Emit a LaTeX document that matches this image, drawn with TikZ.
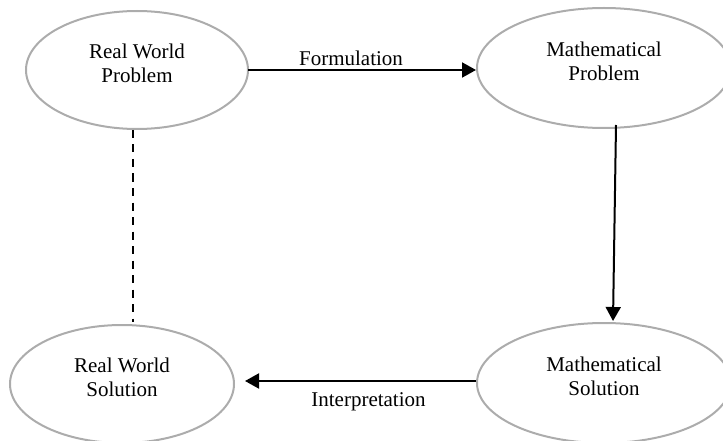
\documentclass[tikz,border=0pt]{standalone}
\usepackage{fontspec}
\setmainfont{Liberation Serif}
\usetikzlibrary{shapes.geometric, arrows.meta, positioning}
\usepackage{xcolor}
% extra depth under the last line, lifts the text a little in its ellipse
\newcommand{\liftup}{\rule[-14pt]{0pt}{14pt}}
\tikzset{
    >={Triangle[length=14pt, width=15pt]},
    % Shapes
    stage/.style={ellipse, draw=gray!65, line width=2pt, align=center,
                  minimum width=222pt, minimum height=118pt, inner sep=0pt,
                  font=\fontsize{21}{24}\selectfont},
    % Flow & Labels
    flow/.style={->, line width=2pt, black},
    link/.style={line width=2pt, black, dash pattern=on 8pt off 6.5pt},
    lbl/.style={font=\fontsize{21}{24}\selectfont, inner sep=2pt}
}
\begin{document}
\begin{tikzpicture}[x=1pt, y=-1pt]
\useasboundingbox (0,0) rectangle (723,441);
\clip (0,0) rectangle (723,441);

\node[stage] (rwp) at (137,70) {Real World\\Problem\liftup};
\node[stage, minimum width=254pt, minimum height=120pt] (mp) at (604,68) {Mathematical\\Problem\liftup};
\node[stage, minimum width=224pt] (rws) at (122,384) {Real World\\Solution\liftup};
\node[stage, minimum width=254pt, minimum height=120pt] (ms) at (604,383) {Mathematical\\Solution\liftup};

\coordinate (fa) at (248,70);
\coordinate (fb) at (476,70);
\coordinate (ia) at (476,381);
\coordinate (ib) at (245,381);
\coordinate (va) at (616,125);
\coordinate (vb) at (613,321);
\coordinate (da) at (133,130);
\coordinate (db) at (133,322);

\draw[flow] (fa) -- node[lbl, above=1pt, xshift=-11pt] {Formulation} (fb);
\draw[flow] (va) -- (vb);
\draw[flow] (ia) -- node[lbl, below=9pt, xshift=8pt] {Interpretation} (ib);
\draw[link] (da) -- (db);

\end{tikzpicture}
\end{document}
